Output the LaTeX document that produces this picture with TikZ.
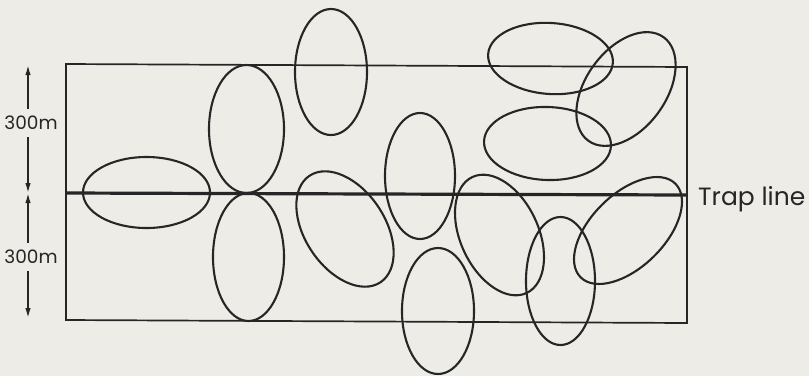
\documentclass[tikz,border=0pt]{standalone}
\usepackage{fontspec}
\setmainfont{Poppins}
\usetikzlibrary{arrows.meta}
\definecolor{paper}{HTML}{EDECE7}
\definecolor{ink}{HTML}{262626}
\begin{document}
\begin{tikzpicture}[x=1pt,y=-1pt,
  home/.style={draw=ink, line width=2.1pt},
  frame/.style={draw=ink, line width=1.7pt},
  trap/.style={draw=ink, line width=3.2pt},
  dim/.style={draw=ink, line width=1.6pt, -{Latex[length=10pt,width=5.5pt]}},
  lbl/.style={text=ink, inner sep=0pt}]
\fill[paper] (0,0) rectangle (809,376);
\useasboundingbox (0,0) rectangle (809,376);
% study area and trap line
\draw[frame] (66,64) -- (687,67) -- (687,323) -- (66,320) -- cycle;
\draw[trap] (66,193) -- (687,195);
% home ranges
\foreach \cx/\cy/\rx/\ry/\ang in {
  146.5/192.5/63.5/35.5/0,
  246.5/129/37.5/64/0,
  248.5/257/35.5/64/0,
  331/72/36/63/0,
  345/229/40/64/33.7,
  420/176/35/63/0,
  438/311/36/63/0,
  550.5/58.5/62.5/35.5/-4,
  547.5/143.5/63.5/36.5/-2,
  626/89/40/64/-36,
  499.5/235/39/64/25,
  560.5/281/34.5/64/0,
  628/230.5/36.6/66.6/-45.5}
  \draw[home, rotate around={\ang:(\cx,\cy)}] (\cx,\cy) ellipse [x radius=\rx, y radius=\ry];
% labels
\node[lbl, font=\fontsize{25}{28}\selectfont, anchor=base west] (tl) at (698,205) {Trap line};
\coordinate (top) at (28,65);
\coordinate (mid) at (28,193);
\coordinate (bot) at (28,318);
\node[lbl, font=\fontsize{18.5}{22}\selectfont] (d1) at (31,123) {300m};
\node[lbl, font=\fontsize{18.5}{22}\selectfont] (d2) at (31,257) {300m};
\draw[dim] ([yshift=7pt]d1.north -| top) -- (top);
\draw[dim] ([yshift=-7pt]d1.south -| top) -- (mid);
\draw[dim] ([yshift=7pt]d2.north -| top) -- (mid);
\draw[dim] ([yshift=-7pt]d2.south -| top) -- (bot);
\end{tikzpicture}
\end{document}
